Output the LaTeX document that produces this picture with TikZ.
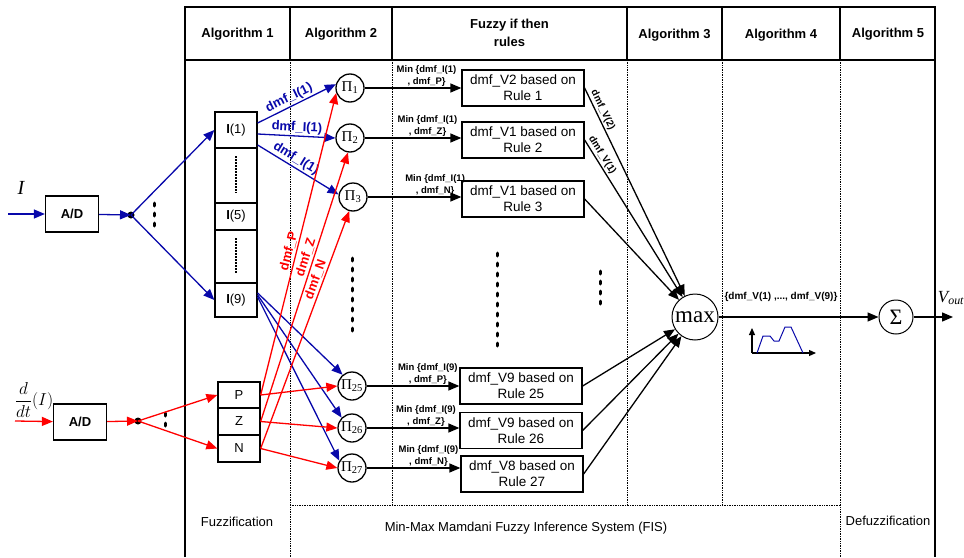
\documentclass[tikz,border=0pt]{standalone}
\usepackage{fontspec}
\setmainfont{Liberation Sans}
\newfontfamily\timesfont{Liberation Serif}
\usetikzlibrary{arrows.meta}
\definecolor{fisblue}{RGB}{8,8,170}
\definecolor{fisred}{RGB}{255,0,0}

\begin{document}
\begin{tikzpicture}[x=1pt, y=-1pt, line width=1.3pt,
    pointed/.style={-{Triangle[length=11pt,width=9pt]}},
    bluearrow/.style={pointed, draw=fisblue, line width=1.3pt},
    redarrow/.style={pointed, draw=fisred, line width=1.3pt},
    blackarrow/.style={pointed, draw=black, line width=1.3pt},
    colsep/.style={densely dotted, line width=0.7pt},
    bigdots/.style={line width=3pt, line cap=round, dash pattern=on 3pt off 7pt},
    smalldots/.style={line width=1.5pt, dash pattern=on 1.5pt off 1.5pt},
    headtext/.style={font=\bfseries\fontsize{13}{18}\selectfont, align=center},
    foottext/.style={font=\fontsize{13}{15}\selectfont},
    adbox/.style={draw, minimum width=53pt, minimum height=36pt, inner sep=0pt,
      font=\bfseries\fontsize{13}{15}\selectfont},
    cell/.style={draw, minimum width=42pt, inner sep=0pt, font=\fontsize{13}{15}\selectfont},
    prodnode/.style={draw, circle, minimum size=28pt, inner sep=0pt,
      font=\timesfont\fontsize{15}{15}\selectfont},
    rulebox/.style={draw, minimum width=122pt, minimum height=36pt, inner sep=0pt,
      align=center, font=\fontsize{13.5}{16}\selectfont},
    minlabel/.style={font=\bfseries\fontsize{9.5}{12}\selectfont, align=center, inner sep=1pt},
    weightlabel/.style={font=\bfseries\fontsize{13}{13}\selectfont, inner sep=1.5pt},
    vlabel/.style={font=\bfseries\fontsize{10}{10}\selectfont, inner sep=1.5pt}]
  \useasboundingbox (0,0) rectangle (964,557);
  %
  \draw[line width=1.5pt] (185,557) -- (185,7) -- (935,7) -- (935,557); % frame
  \draw[line width=1.5pt] (185,60) -- (935,60);
  \foreach \x in {290,392,627,722,840}
    \draw[line width=1.5pt] (\x,7) -- (\x,60);                           % header cols
  \foreach \x in {392,627,722}
    \draw[colsep] (\x,60) -- (\x,505);                                   % body cols
  \foreach \x in {290,840}
    \draw[colsep] (\x,60) -- (\x,557);
  \draw[colsep] (290,505) -- (840,505);
  %
  \node[headtext] (alg1) at (237.5,34) {Algorithm 1};                     % header row
  \node[headtext] (alg2) at (341,34) {Algorithm 2};
  \node[headtext] (rules) at (509.5,33) {Fuzzy if then\\rules};
  \node[headtext] (alg3) at (674.5,35) {Algorithm 3};
  \node[headtext] (alg4) at (781,35) {Algorithm 4};
  \node[headtext] (alg5) at (888,34) {Algorithm 5};
  %
  \node[foottext] (fuzz) at (237,522) {Fuzzification};                    % footer row
  \node[foottext] (fis) at (526,528) {Min-Max Mamdani Fuzzy Inference System (FIS)};
  \node[foottext] (defuzz) at (888,521) {Defuzzification};
  %
  \node[font=\timesfont\itshape\fontsize{20}{20}\selectfont] (curlabel) at (21,188) {I}; % inputs
  \node[font=\fontsize{17}{17}\selectfont, inner sep=0pt] (derlabel) at (34,400)
    {$\displaystyle\frac{d}{dt}(I)$};
  \coordinate (in1) at (8,214);
  \coordinate (in2) at (15,421);
  \node[adbox] (ad1) at (72,214) {A/D};
  \node[adbox] (ad2) at (80,422) {A/D};
  \coordinate (j1) at (131,215);
  \coordinate (j2) at (138,421);
  \fill (j1) circle (3.5);
  \fill (j2) circle (3.5);
  \draw[bigdots] (154,203) -- (154,230);
  \draw[bigdots] (165,413) -- (165,428);
  %
  \node[cell, minimum height=36pt] (i1) at (236,130) {\textbf{I}(1)};    % current cells
  \node[cell, minimum height=55pt] (idots1) at (236,175.5) {};
  \node[cell, minimum height=27pt] (i5) at (236,216.5) {\textbf{I}(5)};
  \node[cell, minimum height=53pt] (idots2) at (236,256.5) {};
  \node[cell, minimum height=34pt] (i9) at (236,300) {\textbf{I}(9)};
  \draw[smalldots] (236,156) -- (236,193);
  \draw[smalldots] (236,238) -- (236,273);
  %
  \node[cell, minimum height=26pt] (pp) at (239,395) {P};                % derivative cells
  \node[cell, minimum height=27pt] (pz) at (239,421.5) {Z};
  \node[cell, minimum height=27pt] (pn) at (239,448.5) {N};
  %
  \node[prodnode] (p1) at (350,88) {Π\textsubscript{1}};                 % products
  \node[prodnode] (p2) at (350,138) {Π\textsubscript{2}};
  \node[prodnode] (p3) at (353,197) {Π\textsubscript{3}};
  \node[prodnode] (p25) at (352,386) {Π\textsubscript{25}};
  \node[prodnode] (p26) at (352,428) {Π\textsubscript{26}};
  \node[prodnode] (p27) at (352,468) {Π\textsubscript{27}};
  \draw[bigdots] (352,258) -- (352,337);
  %
  \node[rulebox] (r1) at (523,88) {dmf\_V2 based on\\Rule 1};           % rules
  \node[rulebox] (r2) at (523,140) {dmf\_V1 based on\\Rule 2};
  \node[rulebox] (r3) at (523,199) {dmf\_V1 based on\\Rule 3};
  \node[rulebox] (r25) at (521,386) {dmf\_V9 based on\\Rule 25};
  \node[rulebox] (r26) at (521,430.5) {dmf\_V9 based on\\Rule 26};
  \node[rulebox] (r27) at (522,474) {dmf\_V8 based on\\Rule 27};
  \draw[bigdots] (497,253) -- (497,352);
  \draw[bigdots] (600,271) -- (600,309);
  %
  \node[draw, circle, minimum size=46pt, inner sep=0pt, line width=1pt,
    font=\timesfont\fontsize{23}{23}\selectfont] (maxop) at (695,317) {max};
  \node[draw, circle, minimum size=34pt, inner sep=0pt, line width=1pt,
    font=\timesfont\fontsize{22}{22}\selectfont] (sumop) at (896,317) {Σ};
  \coordinate (vout) at (953,317);
  \node[font=\timesfont\itshape\fontsize{17}{17}\selectfont, inner sep=0pt] (voutlabel)
    at (951,298) {V\textsubscript{out}};
  \node[vlabel] (vset) at (781,297) {\{dmf\_V(1) ,..., dmf\_V(9)\}};
  %
  \draw[bluearrow] (in1) -- (ad1);                                       % current path
  \draw[bluearrow] (ad1) -- (j1);
  \draw[bluearrow] (j1) -- (i1.west);
  \draw[bluearrow] (j1) -- (i9.west);
  \draw[redarrow] (in2) -- (ad2);                                        % derivative path
  \draw[redarrow] (ad2) -- (j2);
  \draw[redarrow] (j2) -- (pp.west);
  \draw[redarrow] (j2) -- (pn.west);
  %
  \draw[bluearrow] ([yshift=7pt]i1.east) -- (p1.165)
    node[weightlabel, text=fisblue, pos=0.45, above, sloped] {dmf\_I(1)};
  \draw[bluearrow] ([yshift=-4pt]i1.east) -- (p2.west)
    node[weightlabel, text=fisblue, pos=0.5, above, sloped] {dmf\_I(1)};
  \draw[bluearrow] ([yshift=-15pt]i1.east) -- (p3.170)
    node[weightlabel, text=fisblue, pos=0.42, above, sloped] {dmf\_I(1)};
  \draw[bluearrow] ([yshift=7pt]i9.east) -- (p25.130);
  \draw[bluearrow] ([yshift=5pt]i9.east) -- (p26.135);
  \draw[bluearrow] ([yshift=3pt]i9.east) -- (p27.150);
  %
  \draw[redarrow] (pp.east) -- (p1.200)
    node[weightlabel, text=fisred, pos=0.47, above, sloped] {dmf\_P};
  \draw[redarrow] (pz.east) -- (p2.262)
    node[weightlabel, text=fisred, pos=0.6, above, sloped] {dmf\_Z};
  \draw[redarrow] (pn.east) -- (p3.255)
    node[weightlabel, text=fisred, pos=0.7, above, sloped] {dmf\_N};
  \draw[redarrow] (pp.east) -- (p25.west);
  \draw[redarrow] (pz.east) -- (p26.west);
  \draw[redarrow] (pn.east) -- (p27.west);
  %
  \draw[blackarrow] (p1) -- (p1 -| r1.west)                              % min stage
    node[minlabel, pos=0.64, above] {Min \{dmf\_I(1)\\, dmf\_P\}};
  \draw[blackarrow] (p2) -- (p2 -| r2.west)
    node[minlabel, pos=0.65, above] {Min \{dmf\_I(1)\\, dmf\_Z\}};
  \draw[blackarrow] (p3) -- (p3 -| r3.west)
    node[minlabel, pos=0.72, above] {Min \{dmf\_I(1)\\, dmf\_N\}};
  \draw[blackarrow] (p25) -- (p25 -| r25.west)
    node[minlabel, pos=0.66, above] {Min \{dmf\_I(9)\\, dmf\_P\}};
  \draw[blackarrow] (p26) -- (p26 -| r26.west)
    node[minlabel, pos=0.64, above] {Min \{dmf\_I(9)\\, dmf\_Z\}};
  \draw[blackarrow] (p27) -- (p27 -| r27.west)
    node[minlabel, pos=0.66, above] {Min \{dmf\_I(9)\\, dmf\_N\}};
  %
  \draw[blackarrow] (r1.east) -- (maxop)                                 % max stage
    node[vlabel, pos=0.12, above, sloped] {dmf\_V(2)};
  \draw[blackarrow] (r2.east) -- (maxop)
    node[vlabel, pos=0.12, above, sloped] {dmf\_V(1)};
  \draw[blackarrow] (r3.east) -- (maxop);
  \draw[blackarrow] (r25.east) -- (maxop);
  \draw[blackarrow] (r26.east) -- (maxop);
  \draw[blackarrow] (r27.east) -- (maxop);
  \draw[blackarrow] (maxop) -- (sumop);
  \draw[blackarrow] (sumop) -- (vout);
  %
  \draw[-{Triangle[length=7pt,width=6pt]}, line width=1.2pt] (752,353) -- (752,328); % small plot
  \draw[-{Triangle[length=7pt,width=6pt]}, line width=1.2pt] (752,353) -- (816,353);
  \draw[fisblue, line width=1pt] (757,353) -- (763,336) -- (770,336) -- (774,341)
    -- (779,341) -- (785,327) -- (791,327) -- (803,353);
\end{tikzpicture}
\end{document}
